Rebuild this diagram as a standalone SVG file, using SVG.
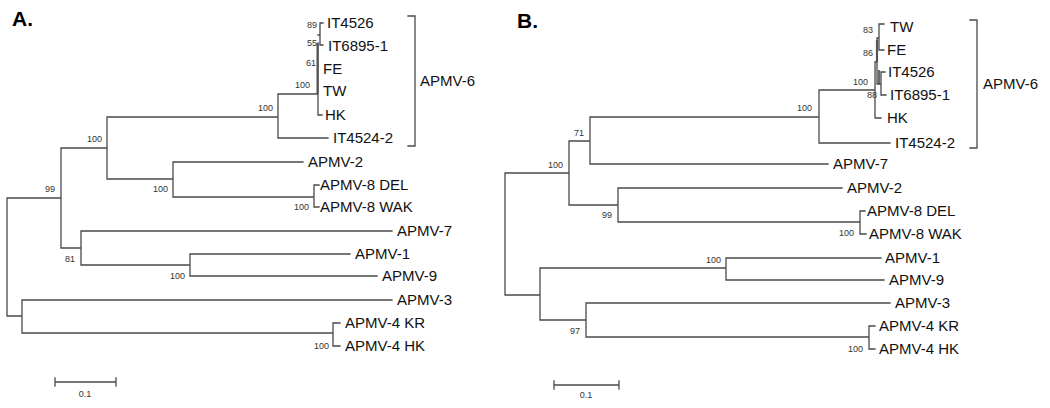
<svg xmlns="http://www.w3.org/2000/svg" width="1050" height="408" viewBox="0 0 1050 408">
<style>
.bg{fill:#fff}
.br{fill:none;stroke:#4a4a4a;stroke-width:1.3;stroke-linecap:square}
.thick{fill:none;stroke:#6a6a6a;stroke-width:2.2}
.lf{font-family:"Liberation Sans",Arial,sans-serif;font-size:15px;fill:#111}
.bs{font-family:"Liberation Sans",Arial,sans-serif;font-size:9px;fill:#333;text-anchor:end}
.pn{font-family:"Liberation Sans",Arial,sans-serif;font-size:21px;font-weight:bold;fill:#000}
.sc{font-family:"Liberation Sans",Arial,sans-serif;font-size:9px;fill:#333;text-anchor:middle}
</style>
<rect class="bg" x="0" y="0" width="1050" height="408"/>
<text class="pn" x="12" y="26">A.</text>
<text class="pn" x="517" y="28">B.</text>

<g id="connectors-A">
<path class="thick" d="M317.5,43 V94"/>
<path class="br" d="M7,198 V316 M7,198 H61 M61,148 V248 M61,148 H107 M107,117 V179 M107,117 H278 M278,94 V138 M278,94 H318 M278,138 H328 M318,43 V115 M318,115 H322 M318,35 H320 M320,23 V45 M320,23 H323 M320,45 H323 M107,179 H173 M173,162 V197 M173,162 H303 M173,197 H314 M314,185 V207 M314,185 H319 M314,207 H319 M61,248 H81 M81,231 V265 M81,231 H392 M81,265 H190 M190,254 V276 M190,254 H350 M190,276 H377 M7,316 H22 M22,300 V333 M22,300 H392 M22,333 H333 M333,323 V346 M333,323 H340 M333,346 H340"/>
<path class="br" d="M408,16 H415 V146 H408"/>
<path class="br" d="M55,382 H116 M55,378 V386 M116,378 V386"/>
</g>

<g id="connectors-B">
<path class="thick" d="M877,40 V62 M879,70 V84"/>
<path class="br" d="M505,173 V295 M505,173 H569 M569,141 V205 M569,141 H590 M590,117 V164 M590,117 H819 M819,90 V143 M819,90 H875 M819,143 H890 M875,62 V118 M875,118 H881 M875,62 H877 M877,38 V84 M877,38 H879 M879,24 V50 M879,24 H884 M879,50 H884 M877,84 H881 M881,72 V95 M881,72 H885 M881,95 H886 M590,164 H828 M569,205 H618 M618,188 V222 M618,188 H842 M618,222 H860 M860,211 V234 M860,211 H865 M860,234 H866 M505,295 H540 M540,268 V320 M540,268 H726 M726,258 V280 M726,258 H881 M726,280 H884 M540,320 H586 M586,303 V337 M586,303 H890 M586,337 H869 M869,326 V349 M869,326 H875 M869,349 H875"/>
<path class="br" d="M970,20 H977 V148 H970"/>
<path class="br" d="M554,385 H619 M554,381 V389 M619,381 V389"/>
</g>

<g id="tree-A-leaves">
<g id="A-IT4526"><text class="lf" x="327" y="28">IT4526</text></g>
<g id="A-IT6895-1"><text class="lf" x="328" y="51">IT6895-1</text></g>
<g id="A-FE"><text class="lf" x="323" y="74">FE</text></g>
<g id="A-TW"><text class="lf" x="323" y="96">TW</text></g>
<g id="A-HK"><text class="lf" x="325" y="120">HK</text></g>
<g id="A-IT4524-2"><text class="lf" x="333" y="143">IT4524-2</text></g>
<g id="A-APMV-2"><text class="lf" x="308" y="167">APMV-2</text></g>
<g id="A-APMV-8-DEL"><text class="lf" x="320" y="190">APMV-8 DEL</text></g>
<g id="A-APMV-8-WAK"><text class="lf" x="320" y="212">APMV-8 WAK</text></g>
<g id="A-APMV-7"><text class="lf" x="397" y="236">APMV-7</text></g>
<g id="A-APMV-1"><text class="lf" x="355" y="259">APMV-1</text></g>
<g id="A-APMV-9"><text class="lf" x="382" y="281">APMV-9</text></g>
<g id="A-APMV-3"><text class="lf" x="397" y="305">APMV-3</text></g>
<g id="A-APMV-4-KR"><text class="lf" x="345" y="328">APMV-4 KR</text></g>
<g id="A-APMV-4-HK"><text class="lf" x="345" y="351">APMV-4 HK</text></g>
<g id="A-APMV-6"><text class="lf" x="420" y="86">APMV-6</text></g>
<g id="A-scale"><text class="sc" x="85" y="397">0.1</text></g>
</g>

<g id="tree-A-nodes">
<g id="A-n89"><text class="bs" x="317" y="28">89</text></g>
<g id="A-n55"><text class="bs" x="317" y="46">55</text></g>
<g id="A-n61"><text class="bs" x="316" y="66">61</text></g>
<g id="A-n100a"><text class="bs" x="310" y="88">100</text></g>
<g id="A-n100b"><text class="bs" x="273" y="111">100</text></g>
<g id="A-n100c"><text class="bs" x="102" y="142">100</text></g>
<g id="A-n100d"><text class="bs" x="168" y="192">100</text></g>
<g id="A-n100e"><text class="bs" x="309" y="210">100</text></g>
<g id="A-n99"><text class="bs" x="55" y="192">99</text></g>
<g id="A-n81"><text class="bs" x="75" y="262">81</text></g>
<g id="A-n100f"><text class="bs" x="185" y="279">100</text></g>
<g id="A-n100g"><text class="bs" x="329" y="349">100</text></g>
</g>

<g id="tree-B-leaves">
<g id="B-TW"><text class="lf" x="890" y="32">TW</text></g>
<g id="B-FE"><text class="lf" x="887" y="55">FE</text></g>
<g id="B-IT4526"><text class="lf" x="888" y="77">IT4526</text></g>
<g id="B-IT6895-1"><text class="lf" x="890" y="100">IT6895-1</text></g>
<g id="B-HK"><text class="lf" x="887" y="123">HK</text></g>
<g id="B-IT4524-2"><text class="lf" x="895" y="148">IT4524-2</text></g>
<g id="B-APMV-7"><text class="lf" x="833" y="169">APMV-7</text></g>
<g id="B-APMV-2"><text class="lf" x="847" y="193">APMV-2</text></g>
<g id="B-APMV-8-DEL"><text class="lf" x="867" y="216">APMV-8 DEL</text></g>
<g id="B-APMV-8-WAK"><text class="lf" x="869" y="239">APMV-8 WAK</text></g>
<g id="B-APMV-1"><text class="lf" x="885" y="263">APMV-1</text></g>
<g id="B-APMV-9"><text class="lf" x="889" y="285">APMV-9</text></g>
<g id="B-APMV-3"><text class="lf" x="895" y="308">APMV-3</text></g>
<g id="B-APMV-4-KR"><text class="lf" x="879" y="331">APMV-4 KR</text></g>
<g id="B-APMV-4-HK"><text class="lf" x="879" y="354">APMV-4 HK</text></g>
<g id="B-APMV-6"><text class="lf" x="983" y="89">APMV-6</text></g>
<g id="B-scale"><text class="sc" x="586" y="398">0.1</text></g>
</g>

<g id="tree-B-nodes">
<g id="B-n83"><text class="bs" x="873" y="33">83</text></g>
<g id="B-n86"><text class="bs" x="873" y="56">86</text></g>
<g id="B-n100a"><text class="bs" x="868" y="85">100</text></g>
<g id="B-n88"><text class="bs" x="877" y="98">88</text></g>
<g id="B-n100b"><text class="bs" x="812" y="111">100</text></g>
<g id="B-n71"><text class="bs" x="584" y="136">71</text></g>
<g id="B-n100c"><text class="bs" x="563" y="168">100</text></g>
<g id="B-n99"><text class="bs" x="612" y="218">99</text></g>
<g id="B-n100d"><text class="bs" x="854" y="236">100</text></g>
<g id="B-n100e"><text class="bs" x="721" y="263">100</text></g>
<g id="B-n97"><text class="bs" x="580" y="334">97</text></g>
<g id="B-n100f"><text class="bs" x="863" y="352">100</text></g>
</g>
</svg>
